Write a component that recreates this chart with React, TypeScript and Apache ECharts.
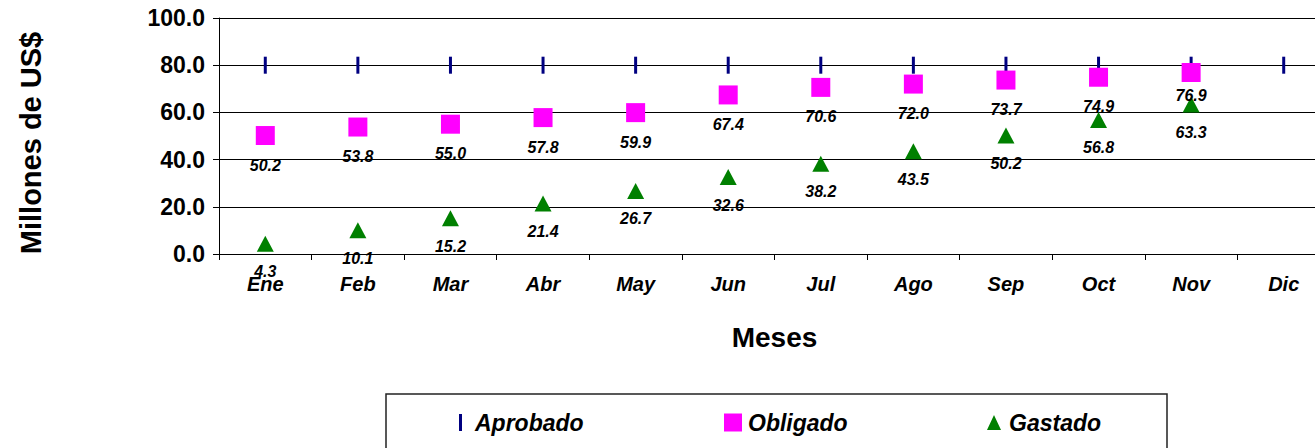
import React, { useEffect, useRef } from "react";
import * as echarts from "echarts";

const months = ["Ene", "Feb", "Mar", "Abr", "May", "Jun", "Jul", "Ago", "Sep", "Oct", "Nov", "Dic"];
const aprobado = [80, 80, 80, 80, 80, 80, 80, 80, 80, 80, 80, 80];
const obligado = [50.2, 53.8, 55.0, 57.8, 59.9, 67.4, 70.6, 72.0, 73.7, 74.9, 76.9];
const gastado = [4.3, 10.1, 15.2, 21.4, 26.7, 32.6, 38.2, 43.5, 50.2, 56.8, 63.3];
const yTicks = { min: 0, max: 100, interval: 20 };

const FONT = "'Liberation Sans', Arial, sans-serif";

export default function App() {
  const ref = useRef<HTMLDivElement>(null);
  useEffect(() => {
    if (!ref.current) return;
    const chart = echarts.init(ref.current, null, { renderer: "svg" });
    const labelStyle = {
      show: true,
      position: "bottom" as const,
      distance: 12,
      formatter: (p: any) => Number(p.value).toFixed(1),
      color: "#000",
      opacity: 1,
      fontFamily: FONT,
      fontWeight: "bold" as const,
      fontStyle: "italic" as const,
      fontSize: 16,
    };
    const legendText = {
      color: "#000",
      fontFamily: FONT,
      fontWeight: "bold" as const,
      fontStyle: "italic" as const,
      fontSize: 23,
    };
    const obligadoData = obligado.map((v, i) =>
      i === obligado.length - 1 ? { value: v, label: { distance: 5 } } : v
    );
    chart.setOption({
      animation: false,
      backgroundColor: "#fff",
      grid: { left: 219, top: 18, width: 1111, height: 236 },
      xAxis: {
        type: "category",
        data: months,
        boundaryGap: true,
        axisLine: { lineStyle: { color: "#000", width: 1 } },
        axisTick: { show: true, length: 6, lineStyle: { color: "#000" } },
        axisLabel: {
          margin: 20,
          color: "#000",
          fontFamily: FONT,
          fontWeight: "bold",
          fontStyle: "italic",
          fontSize: 20,
        },
        name: "Meses",
        nameLocation: "middle",
        nameGap: 69,
        nameTextStyle: { color: "#000", fontFamily: FONT, fontWeight: "bold", fontSize: 28 },
      },
      yAxis: {
        type: "value",
        min: yTicks.min,
        max: yTicks.max,
        interval: yTicks.interval,
        axisLine: { show: true, lineStyle: { color: "#000", width: 1 } },
        axisTick: { show: true, length: 6, lineStyle: { color: "#000" } },
        splitLine: { show: true, lineStyle: { color: "#000", width: 1 } },
        axisLabel: {
          margin: 14,
          formatter: (v: number) => v.toFixed(1),
          color: "#000",
          fontFamily: FONT,
          fontWeight: "bold",
          fontSize: 23,
        },
        name: "Millones de US$",
        nameLocation: "middle",
        nameGap: 174,
        nameTextStyle: { color: "#000", fontFamily: FONT, fontWeight: "bold", fontSize: 29, padding: [0, 0, 0, -14] },
      },
      legend: [
        {
          left: 459,
          top: 411,
          padding: 0,
          itemWidth: 3,
          itemHeight: 17,
          data: [{ name: "Aprobado", icon: "rect" }],
          textStyle: { ...legendText, padding: [0, 0, 0, 8] },
        },
        {
          left: 724,
          top: 411,
          padding: 0,
          itemWidth: 18,
          itemHeight: 18,
          data: [{ name: "Obligado", icon: "rect" }],
          textStyle: { ...legendText, padding: [0, 0, 0, 1] },
        },
        {
          left: 987,
          top: 411,
          padding: 0,
          itemWidth: 14,
          itemHeight: 15,
          data: [{ name: "Gastado", icon: "triangle" }],
          textStyle: { ...legendText, padding: [0, 0, 0, 3] },
        },
      ],
      graphic: [
        {
          type: "rect",
          shape: { x: 386, y: 394, width: 781, height: 62 },
          style: { fill: "none", stroke: "#222", lineWidth: 1.5 },
          silent: true,
        },
      ],
      series: [
        {
          name: "Aprobado",
          type: "scatter",
          data: aprobado,
          symbol: "rect",
          symbolSize: [3, 17],
          itemStyle: { color: "#000080", opacity: 1 },
        },
        {
          name: "Obligado",
          type: "scatter",
          data: obligadoData,
          symbol: "rect",
          symbolSize: 19,
          itemStyle: { color: "#FF00FF", opacity: 1 },
          label: labelStyle,
        },
        {
          name: "Gastado",
          type: "scatter",
          data: gastado,
          symbol: "triangle",
          symbolSize: [17, 16],
          itemStyle: { color: "#008000", opacity: 1 },
          label: labelStyle,
        },
      ],
    });
    return () => chart.dispose();
  }, []);
  return (
    <div
      ref={ref}
      style={{ position: "fixed", left: 0, top: 0, width: 1340, height: 448 }}
    />
  );
}
